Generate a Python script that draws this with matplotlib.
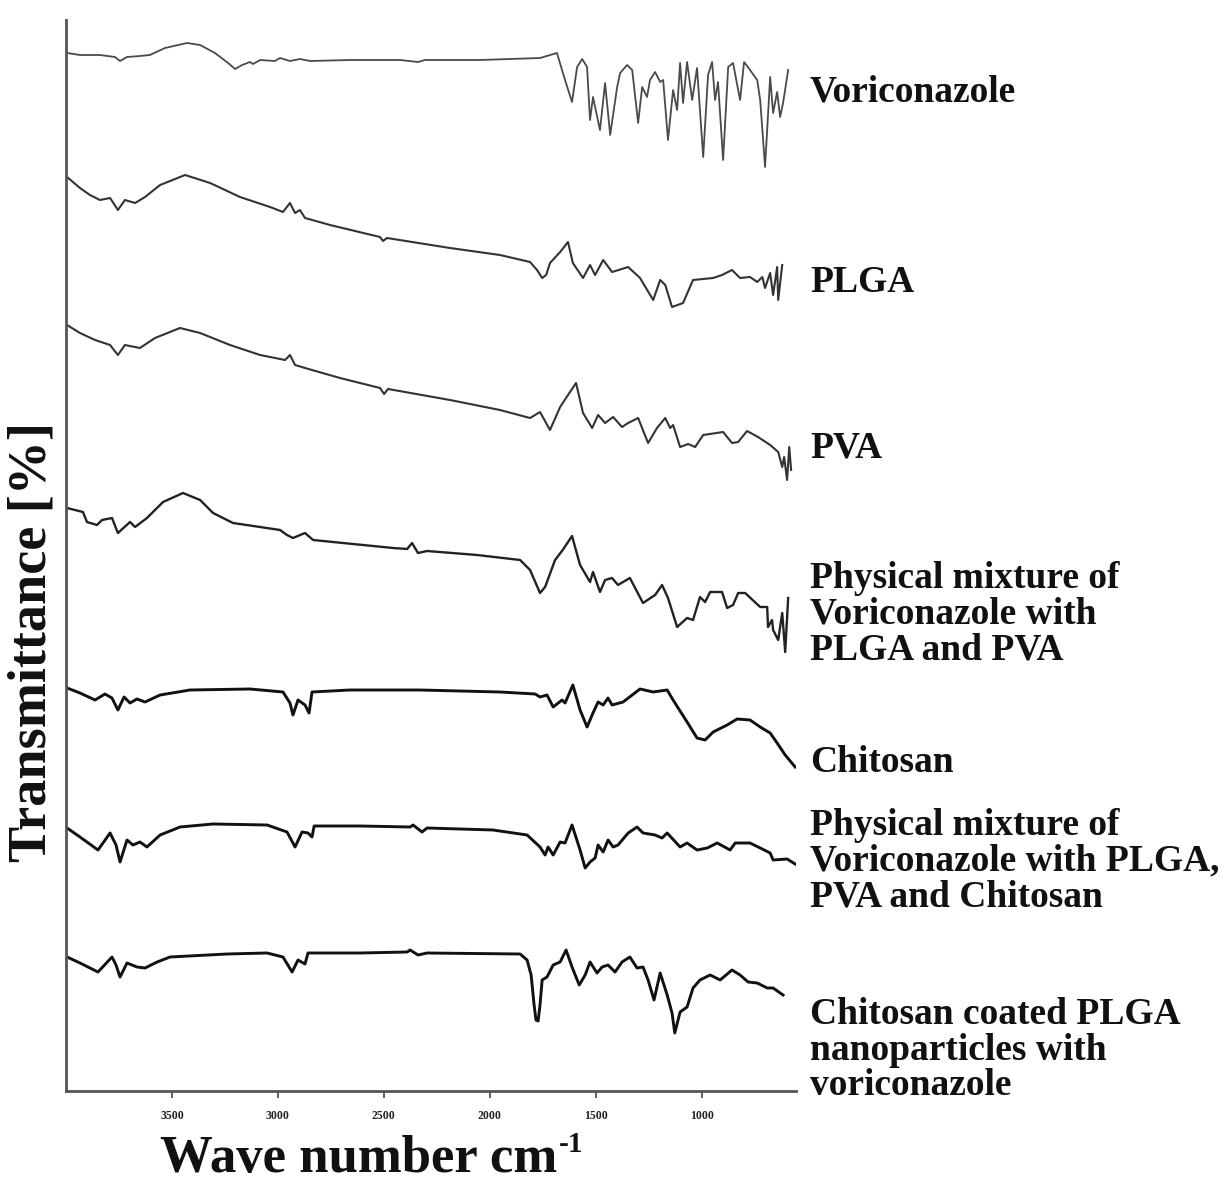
import matplotlib
matplotlib.use("Agg")
import matplotlib.pyplot as plt
from matplotlib.transforms import offset_copy

plt.rcParams["font.family"] = ["Liberation Serif", "DejaVu Serif"]
plt.rcParams["font.weight"] = "bold"

# ---- FTIR spectra: wavenumber (cm-1) and transmittance (a.u.) ----
vori_wn = [3995, 3934, 3840, 3769, 3745, 3712, 3651, 3604, 3533, 3429, 3367, 3297, 3235, 3202,
           3169, 3132, 3117, 3084, 3014, 2990, 2943, 2896, 2848, 2660, 2424, 2339, 2306, 2046,
           1904, 1763, 1683, 1645, 1612, 1588, 1564, 1541, 1527, 1513, 1480, 1456, 1432, 1399,
           1385, 1352, 1328, 1300, 1281, 1258, 1244, 1220, 1196, 1182, 1159, 1135, 1116, 1102,
           1088, 1069, 1045, 1022, 993, 970, 951, 937, 923, 899, 875, 852, 819, 800, 772, 738,
           724, 701, 677, 663, 644, 630, 616, 592]
vori_t = [12.7, 12.5, 12.5, 12.3, 11.9, 12.3, 12.4, 12.5, 13.2, 13.7, 13.5, 12.7, 11.7, 11.1,
          11.5, 11.8, 11.6, 12.0, 11.9, 12.2, 11.9, 12.1, 11.9, 12.0, 12.0, 11.8, 12.0, 12.0,
          12.1, 12.2, 12.7, 10.0, 7.8, 11.3, 12.1, 11.3, 6.0, 8.3, 5.0, 9.7, 4.5, 9.3,
          10.7, 11.5, 11.0, 5.7, 9.3, 8.3, 10.0, 10.8, 9.8, 10.0, 4.0, 9.0, 7.0, 11.7,
          7.7, 11.8, 8.0, 11.2, 2.3, 10.5, 11.8, 8.0, 9.8, 2.0, 11.3, 11.7, 8.0, 11.8, 11.0, 10.0,
          8.0, 1.3, 10.3, 6.7, 8.8, 6.3, 7.7, 11.0]

plga_wn = [3995, 3934, 3887, 3840, 3792, 3755, 3722, 3674, 3627, 3556, 3438, 3320, 3179, 3037,
           2976, 2943, 2919, 2896, 2872, 2754, 2518, 2504, 2485, 2188, 1952, 1810, 1777, 1753,
           1734, 1716, 1668, 1631, 1608, 1560, 1527, 1503, 1465, 1423, 1347, 1291, 1229, 1196,
           1172, 1140, 1088, 1041, 946, 904, 857, 819, 772, 738, 714, 701, 677, 663, 644, 639, 620]
plga_t = [13.3, 12.2, 11.5, 11.0, 11.2, 10.0, 11.0, 10.7, 11.3, 12.5, 13.5, 12.7, 11.3, 10.3,
          9.8, 10.7, 9.7, 10.0, 9.2, 8.5, 7.3, 6.9, 7.2, 6.2, 5.5, 4.8, 4.0, 3.2,
          3.5, 4.7, 5.8, 6.8, 4.7, 3.2, 4.5, 3.5, 5.0, 3.8, 4.3, 3.2, 1.0, 3.0,
          2.5, 0.3, 0.7, 3.0, 3.2, 3.5, 4.0, 3.2, 3.3, 2.8, 3.3, 2.2, 3.7, 1.5, 4.3, 1.0, 4.5]

pva_wn = [3995, 3934, 3863, 3792, 3755, 3722, 3651, 3580, 3462, 3367, 3226, 3084, 2966, 2943,
          2919, 2872, 2707, 2518, 2499, 2480, 2188, 1952, 1810, 1763, 1716, 1668, 1631, 1593,
          1560, 1517, 1489, 1456, 1418, 1376, 1347, 1300, 1253, 1211, 1172, 1149, 1135, 1102,
          1064, 1031, 993, 899, 857, 828, 786, 734, 677, 639, 620, 611, 597, 587, 578]
pva_t = [16.5, 15.7, 15.0, 14.5, 13.5, 14.5, 14.2, 15.2, 16.2, 15.7, 14.5, 13.5, 13.0, 13.5,
         12.5, 12.2, 11.2, 10.2, 9.6, 10.1, 9.0, 8.0, 7.2, 7.8, 6.0, 8.3, 9.5, 10.7,
         7.7, 6.2, 7.5, 6.7, 7.3, 6.3, 6.7, 7.2, 4.7, 6.2, 7.2, 6.2, 6.5, 4.3,
         4.6, 4.3, 5.5, 5.8, 4.7, 4.8, 5.9, 5.3, 4.5, 3.8, 2.3, 3.3, 1.0, 4.3, 2.0]

mix1_wn = [3995, 3920, 3901, 3854, 3830, 3783, 3755, 3698, 3674, 3618, 3580, 3542, 3448, 3367,
           3306, 3212, 3084, 2990, 2957, 2929, 2872, 2834, 2693, 2457, 2390, 2367, 2339, 2296,
           2060, 1857, 1810, 1763, 1739, 1692, 1656, 1612, 1574, 1527, 1513, 1480, 1456, 1423,
           1395, 1339, 1277, 1220, 1187, 1159, 1116, 1069, 1041, 1008, 984, 960, 904, 880, 852,
           828, 795, 724, 691, 687, 668, 663, 639, 620, 606, 592]
mix1_t = [15.2, 14.8, 13.8, 13.5, 14.0, 14.2, 12.7, 13.8, 13.3, 14.2, 15.0, 15.8, 16.7, 16.0,
          14.7, 13.7, 13.3, 13.0, 12.5, 12.2, 12.7, 12.0, 11.7, 11.2, 11.1, 11.7, 10.7, 10.9,
          10.5, 10.0, 9.0, 6.7, 7.3, 10.0, 11.0, 12.4, 9.5, 7.8, 8.8, 6.8, 8.0, 8.2,
          7.5, 8.2, 5.7, 6.5, 7.5, 6.2, 3.3, 4.2, 4.0, 6.3, 5.8, 6.8, 6.8, 5.2, 5.5,
          6.7, 6.7, 5.3, 5.3, 3.3, 4.0, 3.0, 2.0, 4.7, 0.8, 6.2]

chit_wn = [3995, 3934, 3863, 3816, 3783, 3755, 3726, 3698, 3665, 3627, 3556, 3415, 3132, 2976,
           2943, 2929, 2905, 2872, 2853, 2839, 2660, 2329, 1952, 1786, 1763, 1730, 1701, 1659,
           1645, 1608, 1574, 1541, 1513, 1489, 1465, 1442, 1423, 1371, 1328, 1291, 1229, 1163,
           1135, 1069, 1022, 984, 946, 880, 833, 772, 724, 677, 644, 606, 559]
chit_t = [9.2, 8.7, 8.0, 8.6, 8.2, 7.0, 8.3, 7.7, 8.1, 7.8, 8.5, 9.0, 9.1, 8.8,
          7.7, 6.5, 8.0, 7.5, 6.7, 8.8, 9.0, 9.0, 8.8, 8.6, 8.3, 8.5, 7.3, 8.0,
          7.7, 9.5, 7.0, 5.3, 6.7, 7.8, 7.5, 8.2, 7.5, 7.8, 8.5, 9.1, 8.8, 9.0,
          8.0, 5.8, 4.2, 4.0, 4.8, 5.5, 6.1, 6.0, 5.3, 4.7, 3.7, 2.5, 1.3]

mix2_wn = [3995, 3934, 3849, 3792, 3764, 3745, 3712, 3684, 3651, 3618, 3556, 3462, 3306, 3051,
           2957, 2919, 2886, 2858, 2839, 2829, 2612, 2376, 2362, 2320, 2296, 1985, 1824, 1763,
           1739, 1725, 1701, 1668, 1645, 1612, 1574, 1550, 1527, 1503, 1489, 1465, 1442, 1418,
           1395, 1347, 1305, 1277, 1220, 1187, 1163, 1102, 1069, 1022, 974, 927, 866, 842, 772,
           724, 677, 663, 597, 559]
mix2_t = [5.2, 4.3, 3.0, 4.7, 3.5, 1.8, 4.0, 3.5, 3.8, 3.3, 4.5, 5.3, 5.6, 5.5,
          4.8, 3.3, 4.8, 4.7, 4.3, 5.4, 5.4, 5.3, 5.5, 4.8, 5.2, 5.0, 4.5, 3.3,
          2.5, 3.3, 2.5, 3.8, 3.7, 5.5, 3.0, 1.2, 1.8, 2.2, 3.5, 2.8, 4.0, 3.3,
          3.5, 4.7, 5.3, 4.7, 4.5, 4.2, 4.7, 3.3, 3.7, 3.0, 3.2, 3.7, 3.0, 3.7, 3.7,
          3.2, 2.7, 2.0, 2.1, 1.6]

coated_wn = [3995, 3934, 3849, 3783, 3764, 3745, 3712, 3665, 3627, 3570, 3509, 3240, 3051, 2976,
             2933, 2905, 2872, 2858, 2612, 2390, 2376, 2339, 2296, 1857, 1824, 1805, 1791, 1782,
             1772, 1763, 1753, 1730, 1701, 1668, 1640, 1612, 1578, 1550, 1527, 1494, 1470, 1442,
             1409, 1376, 1339, 1305, 1277, 1253, 1225, 1196, 1163, 1140, 1127, 1102, 1069, 1041,
             1008, 960, 913, 857, 819, 781, 738, 691, 663, 616]
coated_t = [8.3, 7.7, 6.8, 8.3, 7.5, 6.3, 7.7, 7.3, 7.2, 7.8, 8.3, 8.6, 8.7, 8.3,
            6.8, 8.0, 7.6, 8.7, 8.7, 8.8, 9.0, 8.5, 8.7, 8.6, 8.0, 6.5, 3.5, 2.0,
            1.9, 3.5, 6.0, 6.3, 7.5, 7.8, 9.0, 7.3, 5.5, 6.5, 7.8, 6.7, 7.3, 7.5,
            6.8, 7.8, 8.3, 7.2, 7.3, 6.0, 4.0, 6.7, 4.5, 2.7, 0.7, 2.8, 3.3, 5.2,
            6.0, 6.5, 6.0, 7.0, 6.5, 5.8, 5.7, 5.2, 5.2, 4.5]

sample_names = [
    "Voriconazole",
    "PLGA",
    "PVA",
    "Physical mixture of\nVoriconazole with\nPLGA and PVA",
    "Chitosan",
    "Physical mixture of\nVoriconazole with PLGA,\nPVA and Chitosan",
    "Chitosan coated PLGA\nnanoparticles with\nvoriconazole",
]
x_ticks = [3500, 3000, 2500, 2000, 1500, 1000]

# ---- figure ----
fig = plt.figure(figsize=(12.26, 11.84), dpi=100)
ax = fig.add_axes([66 / 1226, 93 / 1184, 730 / 1226, 1071 / 1184])

spectra = [(vori_wn, vori_t), (plga_wn, plga_t), (pva_wn, pva_t), (mix1_wn, mix1_t),
           (chit_wn, chit_t), (mix2_wn, mix2_t), (coated_wn, coated_t)]
stack_offsets = [91.1, 78.1, 60.1, 43.1, 31.1, 21.1, 5.1]
line_styles = [("#4a4a4a", 1.3), ("#333333", 1.5), ("#333333", 1.5), ("#222222", 1.7),
               ("#111111", 2.1), ("#111111", 2.1), ("#111111", 2.1)]

for (wn, t), off, (col, lw) in zip(spectra, stack_offsets, line_styles):
    ax.plot(wn, [v + off for v in t], color=col, lw=lw, solid_joinstyle="round")

ax.set_xlim(4000, 555)
ax.set_ylim(0, 107.1)
ax.set_xticks(x_ticks)
ax.set_xticklabels([str(v) for v in x_ticks], fontsize=8.5, fontweight="bold")
ax.tick_params(axis="x", direction="out", length=5, width=1.2, pad=9, colors="#444444",
               labelcolor="#222222")
ax.set_yticks([])
for side in ("top", "right"):
    ax.spines[side].set_visible(False)
for side in ("left", "bottom"):
    ax.spines[side].set_color("#555555")
    ax.spines[side].set_linewidth(2.0)

# sample labels to the right of the spectra
label_y = [92, 283, 448, 614, 763, 861, 1050]
for name, yp in zip(sample_names, label_y):
    fig.text(810 / 1226, 1 - yp / 1184, name, fontsize=27, fontweight="bold",
             ha="left", va="center", linespacing=1.03, color="#111111")

# x-axis title with a small raised "-1"
xtitle = fig.text(160 / 1226, 12 / 1184, "Wave number cm", fontsize=38,
                  fontweight="bold", ha="left", va="baseline", color="#111111")
fig.canvas.draw()
bb = xtitle.get_window_extent()
sup_tr = offset_copy(fig.transFigure, fig=fig, x=2, y=20, units="dots")
fig.text(bb.x1 / fig.bbox.width, 12 / 1184, "-1", fontsize=21, fontweight="bold",
         ha="left", va="baseline", color="#111111", transform=sup_tr)

fig.text(33 / 1226, 1 - 642 / 1184, "Transmittance [%]", fontsize=39, fontweight="bold",
         rotation=90, ha="center", va="center", color="#111111")

fig.savefig("out.png", dpi=100, facecolor="white")
